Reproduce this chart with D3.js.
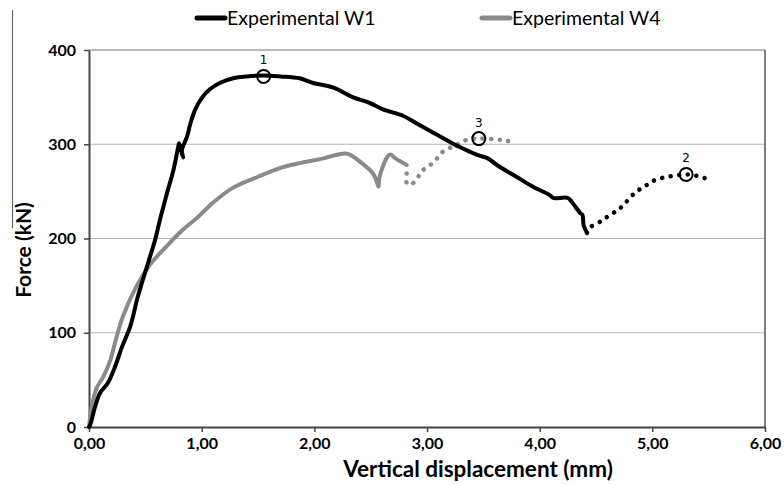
<!DOCTYPE html>
<html><head><meta charset="utf-8">
<script src="https://cdn.jsdelivr.net/npm/d3@7"></script>
<style>
body{margin:0;background:#fff;}
svg{display:block;}
text{font-family:Lato,"Open Sans",sans-serif;}
</style></head><body>
<svg id="c" width="784" height="485"></svg>
<script>
// ---- data ----
const xTicks = [0,1,2,3,4,5,6];
const yTicks = [0,100,200,300,400];
const seriesNames = ["Experimental W1","Experimental W4"];

const w1X = [0,0.01,0.053,0.098,0.169,0.231,0.293,0.364,0.39,0.426,0.47,0.524,0.568,0.59,0.63,0.69,0.75,0.79,0.80,0.82,0.835,0.825,0.87,0.90,0.94,1.00,1.07,1.16,1.28,1.40,1.55,1.70,1.87,1.99,2.17,2.34,2.49,2.61,2.79,2.91,3.09,3.29,3.44,3.54,3.62,3.80,3.94,4.09,4.12,4.25,4.29,4.36,4.38,4.39,4.42];
const w1Y = [0,2,21,36,47,64,85,106,117,135,153,174,191,200,220,247,273,296,301,292,286,294,308,322,336,349,358,365,370,372,373,372,370,365,360,350,344,337,330,322,310,297,289,285,278,265,255,246,243,243,238,227,225,214,206];
const w1DotX = [4.42,4.45,4.54,4.60,4.69,4.74,4.80,4.86,4.93,4.99,5.08,5.16,5.30,5.41,5.49];
const w1DotY = [206,212,218,223,230,235,243,250,255,260,264,266,268,266,263];

const w4X = [0,0.03,0.07,0.125,0.19,0.23,0.30,0.42,0.54,0.69,0.83,0.96,1.10,1.28,1.49,1.70,1.87,2.08,2.29,2.41,2.52,2.56,2.57,2.58,2.67,2.72,2.82];
const w4Y = [0,25,42,53,71,89,117,149,172,192,209,222,238,254,265,275,280,285,290,281,269,258,255,266,289,285,278];
const w4DotX = [2.82,2.82,2.85,2.91,2.95,3.03,3.09,3.14,3.22,3.29,3.36,3.46,3.62,3.69,3.78];
const w4DotY = [269,259,257,263,271,278,285,292,297,301,305,306,305,304,302];

const markX = [1.55,5.30,3.46];
const markY = [372,268,306];
const markLabels = ["1","2","3"];

// ---- layout ----
const svg = d3.select("#c");
const m = {l:89, r:765, t:50, b:427};
const x = d3.scaleLinear().domain([0,6]).range([m.l,m.r]);
const y = d3.scaleLinear().domain([0,400]).range([m.b,m.t]);
const fmt = d => d.toFixed(2).replace(".",",");

// grid
svg.append("g").selectAll("line").data(yTicks.filter(d=>d>0)).join("line")
  .attr("x1",m.l).attr("x2",m.r).attr("y1",d=>y(d)).attr("y2",d=>y(d))
  .attr("stroke",d=>d===400?"#777":"#b4b4b4").attr("stroke-width",1.2);
// right border
svg.append("line").attr("x1",m.r).attr("x2",m.r).attr("y1",m.t).attr("y2",m.b)
  .attr("stroke","#555").attr("stroke-width",1.5);
// stray left line
svg.append("line").attr("x1",12.5).attr("x2",12.5).attr("y1",10).attr("y2",228)
  .attr("stroke","#666").attr("stroke-width",1.2);

// axes
const xa = svg.append("g").attr("transform",`translate(0,${m.b})`)
  .call(d3.axisBottom(x).tickValues(xTicks).tickFormat(fmt).tickSize(5).tickSizeOuter(0));
const ya = svg.append("g").attr("transform",`translate(${m.l},0)`)
  .call(d3.axisLeft(y).tickValues(yTicks).tickSize(5).tickSizeOuter(0));
[xa,ya].forEach(a=>{
  a.select(".domain").attr("stroke","#444").attr("stroke-width",2);
  a.selectAll(".tick line").attr("stroke","#444").attr("stroke-width",1.5);
  a.selectAll("text").attr("fill","#000").attr("font-size",16).attr("font-weight","bold")
   .style("font-family","Lato,sans-serif");
});
xa.selectAll("text").attr("dy","0.9em");
ya.selectAll("text").attr("dx","-5");

// lines
const curve = d3.curveCatmullRom.alpha(0.5);
const line = (xs,ys,c)=>{const l=d3.line().x((d,i)=>x(xs[i])).y((d,i)=>y(ys[i])); if(c) l.curve(c); return l(xs);};
const g = svg.append("g");
g.append("path").attr("d",line(w4X,w4Y,curve)).attr("fill","none").attr("stroke","#8a8a8a")
  .attr("stroke-width",4).attr("stroke-linejoin","round").attr("stroke-linecap","round");
g.append("path").attr("d",line(w4DotX,w4DotY,curve)).attr("fill","none").attr("stroke","#8a8a8a")
  .attr("stroke-width",4.5).attr("stroke-linecap","round").attr("stroke-dasharray","0.1 8.5");
g.append("path").attr("d",line(w1X,w1Y,curve)).attr("fill","none").attr("stroke","#000")
  .attr("stroke-width",4).attr("stroke-linejoin","round").attr("stroke-linecap","round");
g.append("path").attr("d",line(w1DotX,w1DotY,curve)).attr("fill","none").attr("stroke","#000")
  .attr("stroke-width",4.5).attr("stroke-linecap","round").attr("stroke-dasharray","0.1 8.5");

// markers
const mk = svg.append("g").selectAll("g").data(markX).join("g")
  .attr("transform",(d,i)=>`translate(${x(d)},${y(markY[i])})`);
mk.append("circle").attr("r",6.5).attr("fill","none").attr("stroke","#000").attr("stroke-width",2);
mk.append("text").attr("y",-12).attr("text-anchor","middle").attr("font-size",12)
  .style("font-family","'DejaVu Sans',sans-serif").text((d,i)=>markLabels[i]);

// axis titles
svg.append("text").attr("x",478).attr("y",477).attr("text-anchor","middle")
  .attr("font-size",22.5).attr("font-weight","bold").text("Vertical displacement (mm)");
svg.append("text").attr("transform","translate(31,250) rotate(-90)").attr("text-anchor","middle")
  .attr("font-size",21).attr("font-weight","bold").text("Force (kN)");

// legend
const lg = svg.append("g").selectAll("g").data(seriesNames).join("g")
  .attr("transform",(d,i)=>`translate(${i===0?197:482},18)`);
lg.append("line").attr("x1",0).attr("x2",28).attr("stroke",(d,i)=>i===0?"#000":"#8a8a8a")
  .attr("stroke-width",5).attr("stroke-linecap","round");
lg.append("text").attr("x",30).attr("y",7).attr("font-size",19.5).text(d=>d);
</script></body></html>
